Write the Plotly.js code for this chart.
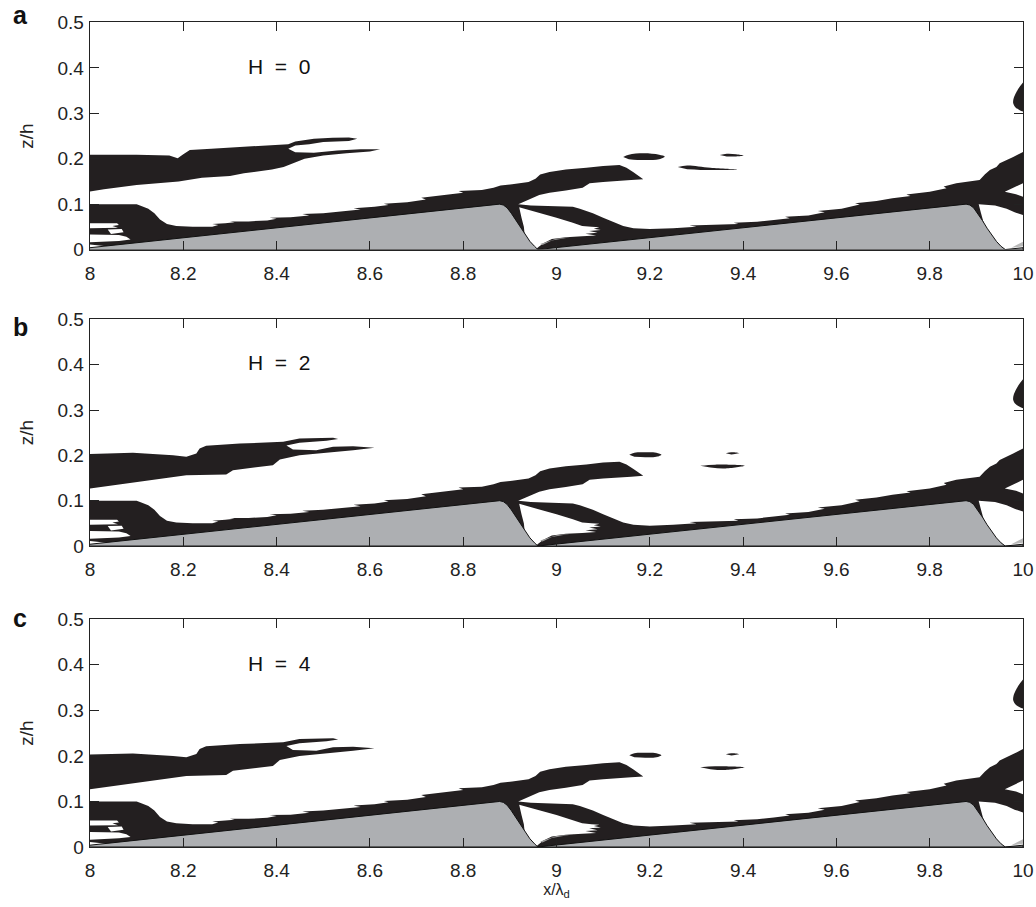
<!DOCTYPE html>
<html><head><meta charset="utf-8">
<script src="https://cdn.plot.ly/plotly-3.0.1.min.js"></script>
<style>html,body{margin:0;padding:0;background:#fff}</style>
</head><body><div id="chart" style="width:1036px;height:907px"></div>
<script>
// ---------- tick values / labels ----------
const xTickVals = [8, 8.2, 8.4, 8.6, 8.8, 9, 9.2, 9.4, 9.6, 9.8, 10];
const xTickText = ['8', '8.2', '8.4', '8.6', '8.8', '9', '9.2', '9.4', '9.6', '9.8', '10'];
const yTickVals = [0, 0.1, 0.2, 0.3, 0.4, 0.5];
const yTickText = ['0', '0.1', '0.2', '0.3', '0.4', '0.5'];

const panelLetters = ['a', 'b', 'c'];
const panelLabels = ['H&nbsp; =&nbsp; 0', 'H&nbsp; =&nbsp; 2', 'H&nbsp; =&nbsp; 4'];

// ---------- dune bed profile (x/λd, z/h) ----------
const duneX = [8.0, 8.878, 8.886, 8.894, 8.903, 8.913, 8.923, 8.933, 8.943, 8.953, 8.960,
               9.878, 9.886, 9.894, 9.903, 9.913, 9.923, 9.933, 9.943, 9.953, 9.962, 10.0, 10.0, 8.0];
const duneZ = [0.004, 0.100, 0.098, 0.092, 0.080, 0.064, 0.047, 0.032, 0.018, 0.007, 0.0,
               0.100, 0.098, 0.092, 0.080, 0.064, 0.047, 0.032, 0.018, 0.007, 0.0, 0.004, 0.0, 0.0];

// ---------- black regions (shared by all panels) ----------
const lowerLayer = [
 [8.000,0.100],[8.100,0.100],[8.110,0.096],[8.125,0.090],[8.138,0.080],[8.150,0.066],[8.165,0.056],[8.185,0.052],[8.220,0.050],[8.262,0.050],
 [8.275,0.054],[8.262,0.056],[8.290,0.058],[8.310,0.060],[8.300,0.062],[8.340,0.062],[8.380,0.064],[8.400,0.068],[8.385,0.070],[8.430,0.071],
 [8.470,0.075],[8.455,0.078],[8.500,0.080],[8.540,0.084],[8.580,0.088],[8.565,0.091],[8.610,0.094],[8.640,0.098],[8.630,0.101],[8.680,0.104],
 [8.720,0.110],[8.710,0.114],[8.760,0.120],[8.800,0.125],[8.790,0.129],[8.840,0.131],[8.865,0.136],[8.880,0.141],[8.905,0.144],[8.940,0.149],
 [8.955,0.156],[8.965,0.165],[8.985,0.171],[9.020,0.176],[9.064,0.180],[9.100,0.184],[9.135,0.186],[9.150,0.180],[9.165,0.170],[9.186,0.155],
 [9.160,0.153],[9.135,0.152],[9.100,0.149],[9.071,0.146],[9.056,0.136],[9.020,0.130],[8.985,0.125],[8.963,0.120],[8.940,0.110],[8.918,0.100],
 [8.945,0.097],[8.990,0.096],[9.035,0.094],[9.050,0.090],[9.078,0.080],[9.100,0.070],[9.120,0.062],[9.143,0.052],[9.165,0.047],[9.200,0.045],
 [9.250,0.047],[9.300,0.050],[9.285,0.053],[9.350,0.054],[9.390,0.056],[9.380,0.059],[9.430,0.061],[9.466,0.065],[9.500,0.069],[9.490,0.072],
 [9.540,0.075],[9.575,0.082],[9.560,0.085],[9.611,0.090],[9.650,0.099],[9.640,0.102],[9.686,0.107],[9.720,0.113],[9.759,0.118],[9.750,0.121],
 [9.800,0.127],[9.836,0.135],[9.830,0.139],[9.857,0.146],[9.907,0.153],[9.918,0.165],[9.929,0.175],[9.943,0.182],[9.950,0.190],[9.979,0.204],
 [10.0,0.215],[10.0,0.0],[8.0,0.0]
];
const upperBandA = [
 [8.000,0.209],[8.100,0.209],[8.170,0.207],[8.188,0.201],[8.200,0.210],[8.214,0.219],[8.260,0.222],[8.320,0.226],[8.400,0.230],[8.425,0.232],
 [8.440,0.238],[8.480,0.244],[8.520,0.246],[8.555,0.247],[8.573,0.244],[8.555,0.239],[8.500,0.237],[8.470,0.232],[8.440,0.229],[8.425,0.222],
 [8.440,0.214],[8.480,0.213],[8.530,0.218],[8.580,0.221],[8.622,0.221],[8.600,0.216],[8.550,0.212],[8.500,0.207],[8.460,0.200],[8.435,0.190],
 [8.415,0.182],[8.390,0.176],[8.330,0.168],[8.300,0.162],[8.240,0.158],[8.190,0.150],[8.100,0.142],[8.030,0.133],[8.000,0.128]
];
const upperBandBC = [
 [8.000,0.203],[8.092,0.2055],[8.178,0.200],[8.2065,0.197],[8.228,0.204],[8.235,0.215],[8.249,0.221],[8.321,0.226],[8.414,0.230],[8.428,0.233],
 [8.449,0.237],[8.521,0.239],[8.532,0.236],[8.507,0.232],[8.449,0.2276],[8.421,0.222],[8.435,0.213],[8.485,0.2115],[8.521,0.219],[8.564,0.220],
 [8.610,0.217],[8.564,0.2115],[8.507,0.2055],[8.449,0.200],[8.407,0.191],[8.392,0.178],[8.3065,0.1674],[8.292,0.158],[8.2065,0.156],[8.128,0.1454],
 [8.000,0.127]
];
const blobTopRight = [[10.0,0.368],[9.994,0.360],[9.986,0.347],[9.980,0.333],[9.979,0.322],[9.984,0.313],[9.993,0.307],[10.0,0.304]];

// small detached blobs, per panel
const ellipseA = [[9.143,0.204],[9.155,0.209],[9.187,0.212],[9.220,0.209],[9.232,0.205],[9.220,0.199],[9.187,0.197],[9.155,0.199]];
const smallA   = [[9.350,0.208],[9.365,0.211],[9.385,0.210],[9.401,0.207],[9.385,0.205],[9.365,0.205]];
const streakA  = [[9.260,0.182],[9.280,0.185],[9.330,0.180],[9.389,0.176],[9.330,0.175],[9.280,0.177]];
const ellipseB = [[9.156,0.2015],[9.167,0.206],[9.190,0.207],[9.214,0.206],[9.225,0.2015],[9.214,0.197],[9.190,0.196],[9.167,0.197]];
const smallB   = [[9.363,0.2045],[9.375,0.207],[9.392,0.205],[9.375,0.202]];
const streakB  = [[9.308,0.177],[9.340,0.1795],[9.403,0.177],[9.360,0.171],[9.330,0.173]];
const ellipseC = [[9.156,0.2015],[9.167,0.206],[9.190,0.207],[9.214,0.206],[9.225,0.2015],[9.214,0.197],[9.190,0.196],[9.167,0.197]];
const smallC   = [[9.363,0.2035],[9.375,0.206],[9.392,0.204],[9.375,0.201]];
const streakC  = [[9.308,0.175],[9.340,0.1775],[9.403,0.175],[9.360,0.169],[9.330,0.171]];

// ---------- white regions cut into the black ----------
const leeWhite1 = [[8.920,0.093],[8.960,0.082],[9.000,0.070],[9.035,0.059],[9.055,0.052],[9.075,0.050],[9.092,0.049],[9.080,0.046],[9.095,0.043],
 [9.070,0.041],[9.088,0.037],[9.062,0.035],[9.085,0.031],[9.055,0.029],[9.020,0.027],[8.990,0.023],[8.972,0.014],[8.962,0.006],[8.955,0.0],
 [8.935,0.0],[8.930,0.050],[8.925,0.070]];
const leeWhite2 = [[9.905,0.100],[9.940,0.097],[9.965,0.090],[9.982,0.082],[10.0,0.076],[10.0,0.0],[9.935,0.0],[9.918,0.050],[9.910,0.080]];
const whiteWedgeRight = [[10.0,0.146],[9.985,0.138],[9.961,0.127],[9.985,0.122],[10.0,0.116]];
const whiteLeft1 = [[8.0,0.058],[8.058,0.058],[8.062,0.054],[8.048,0.052],[8.060,0.048],[8.0,0.047]];
const whiteLeft2 = [[8.038,0.044],[8.068,0.045],[8.072,0.038],[8.045,0.034]];
const whiteLeft3 = [[8.0,0.033],[8.062,0.032],[8.078,0.028],[8.087,0.022],[8.062,0.019],[8.0,0.016]];
const whiteLeft4 = [[8.0,0.011],[8.045,0.006],[8.0,0.003]];
// faint grey streaks near the troughs
const greyStreak1 = [[8.965,0.012],[9.000,0.024],[9.030,0.027],[8.990,0.020],[8.970,0.010]];
const greyStreak2 = [[9.975,0.004],[10.0,0.017],[10.0,0.007]];

const BLACK = '#231f20';
const GREY = '#adafb2';

const panelUpper = [upperBandA, upperBandBC, upperBandBC];
const panelEll = [ellipseA, ellipseB, ellipseC];
const panelSmall = [smallA, smallB, smallC];
const panelStreak = [streakA, streakB, streakC];

function poly(pts, i, color, smooth) {
  const s = i === 0 ? '' : String(i + 1);
  return {
    type: 'scatter', mode: 'lines', fill: 'toself',
    x: pts.map(p => p[0]), y: pts.map(p => p[1]),
    xaxis: 'x' + s, yaxis: 'y' + s,
    line: {width: 0, color: color, shape: smooth ? 'spline' : 'linear'},
    fillcolor: color, hoverinfo: 'skip', showlegend: false
  };
}

const traces = [];
for (let i = 0; i < 3; i++) {
  const s = i === 0 ? '' : String(i + 1);
  traces.push(poly(lowerLayer, i, BLACK));
  traces.push(poly(panelUpper[i], i, BLACK));
  traces.push(poly(blobTopRight, i, BLACK, true));
  traces.push(poly(panelEll[i], i, BLACK, true));
  traces.push(poly(panelSmall[i], i, BLACK, true));
  traces.push(poly(panelStreak[i], i, BLACK, true));
  [leeWhite1, leeWhite2, whiteWedgeRight, whiteLeft1, whiteLeft2, whiteLeft3, whiteLeft4]
    .forEach(w => traces.push(poly(w, i, '#ffffff')));
  traces.push(poly(greyStreak1, i, '#9c9c9c'));
  traces.push(poly(greyStreak2, i, '#b8b8b8'));
  traces.push({
    type: 'scatter', mode: 'lines', fill: 'toself', x: duneX, y: duneZ,
    xaxis: 'x' + s, yaxis: 'y' + s,
    line: {width: 1, color: '#111'}, fillcolor: GREY, hoverinfo: 'skip', showlegend: false
  });
}

const FONT = 'Liberation Sans, Arial, Helvetica, sans-serif';
const domains = [[0.7242, 0.9994], [0.3648, 0.6396], [0.0, 0.2760]];
const layout = {
  width: 1036, height: 907,
  margin: {l: 90, r: 13, t: 22, b: 60},
  paper_bgcolor: '#fff', plot_bgcolor: '#fff',
  font: {family: FONT, size: 19, color: '#222'},
  showlegend: false,
  annotations: []
};
for (let i = 0; i < 3; i++) {
  const s = i === 0 ? '' : String(i + 1);
  const common = {
    showline: true, linecolor: '#222', linewidth: 1.3, mirror: 'ticks',
    ticks: 'inside', ticklen: 9, tickwidth: 1, tickcolor: '#222',
    showgrid: false, zeroline: false, fixedrange: true,
    tickfont: {family: FONT, size: 19, color: '#222'}
  };
  layout['xaxis' + s] = Object.assign({}, common, {
    range: [8, 10], tickmode: 'array', tickvals: xTickVals, ticktext: xTickText,
    anchor: 'y' + s, domain: [0, 1], ticklabelstandoff: 6
  });
  layout['yaxis' + s] = Object.assign({}, common, {
    range: [0, 0.5], tickmode: 'array', tickvals: yTickVals, ticktext: yTickText,
    anchor: 'x' + s, domain: domains[i], ticklabelstandoff: 1,
    title: {text: 'z/h', font: {family: FONT, size: 19, color: '#222'}, standoff: 18}
  });
  layout.annotations.push({
    xref: 'paper', yref: 'paper', x: -0.0745, y: [1.0088, 0.6307, 0.2771][i],
    xanchor: 'center', yanchor: 'middle', showarrow: false,
    text: '<b>' + panelLetters[i] + '</b>', font: {family: FONT, size: 25, color: '#111'}
  });
  layout.annotations.push({
    xref: 'x' + s, yref: 'y' + s, x: 8.334, y: 0.404, xanchor: 'left', yanchor: 'middle',
    showarrow: false, text: panelLabels[i], font: {family: FONT, size: 21, color: '#111'}
  });
}
layout.xaxis3.title = {text: 'x/λ<sub>d</sub>', font: {family: FONT, size: 16, color: '#222'}, standoff: 2};

Plotly.newPlot('chart', traces, layout, {displayModeBar: false, staticPlot: true});
</script>
</body></html>
